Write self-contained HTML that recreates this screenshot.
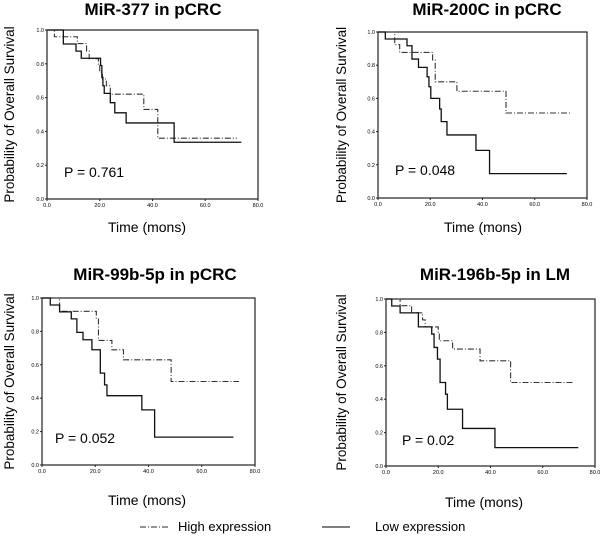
<!DOCTYPE html>
<html><head><meta charset="utf-8"><style>
body{margin:0;background:#fff;}
svg{display:block;font-family:"Liberation Sans",Arial,sans-serif;}
</style></head><body>
<svg id="c" width="600" height="537" viewBox="0 0 600 537">
<g id="legend">
<line x1="140" y1="527" x2="168" y2="527" stroke="#555" stroke-width="1.2" stroke-dasharray="6,2,1,2"/>
<text x="178" y="531" font-size="13">High expression</text>
<line x1="322" y1="527" x2="350" y2="527" stroke="#333" stroke-width="1.3"/>
<text x="375" y="531" font-size="13">Low expression</text>
</g>
</svg>
<script>
// Panel data (time in months, survival probability after step)
const xTicks = [0, 20, 40, 60, 80];
const yTicks = [0, 0.2, 0.4, 0.6, 0.8, 1.0];
const titles = ["MiR-377 in pCRC", "MiR-200C in pCRC", "MiR-99b-5p in pCRC", "MiR-196b-5p in LM"];
const pValues = ["P = 0.761", "P = 0.048", "P = 0.052", "P = 0.02"];

const p1LowT = [0, 6.2, 11, 13, 20.3, 20.8, 21.2, 21.7, 24, 25.7, 30, 48.2, 73.7];
const p1LowS = [1.0, 0.917, 0.875, 0.833, 0.79, 0.72, 0.67, 0.625, 0.57, 0.51, 0.45, 0.336, 0.336];
const p1HighT = [0, 2.8, 11.5, 15, 16, 19.5, 20, 21, 22.5, 24, 36.7, 42, 72];
const p1HighS = [1.0, 0.96, 0.92, 0.875, 0.83, 0.79, 0.75, 0.71, 0.67, 0.62, 0.53, 0.36, 0.36];

const p2LowT = [0, 2.8, 11.1, 13, 15.5, 18.8, 19.5, 20.2, 23.6, 24.2, 26.4, 37.5, 42.7, 72.3];
const p2LowS = [1.0, 0.958, 0.917, 0.837, 0.787, 0.73, 0.67, 0.60, 0.536, 0.46, 0.38, 0.287, 0.147, 0.147];
const p2HighT = [0, 6.4, 8.3, 20.9, 21.9, 30.2, 49, 74];
const p2HighS = [1.0, 0.924, 0.877, 0.83, 0.70, 0.643, 0.512, 0.512];

const p3LowT = [0, 3.1, 6.6, 11, 13.1, 15.4, 18.75, 21.9, 23.5, 24.4, 37.5, 42.3, 71.9];
const p3LowS = [1.0, 0.958, 0.917, 0.875, 0.794, 0.75, 0.69, 0.55, 0.48, 0.415, 0.33, 0.167, 0.167];
const p3HighT = [0, 6.6, 20.4, 21.2, 26.25, 30.6, 48.5, 74];
const p3HighS = [1.0, 0.92, 0.875, 0.746, 0.69, 0.63, 0.50, 0.50];

const p4LowT = [0, 2.2, 5.4, 12.4, 17.5, 18.4, 19.7, 20.7, 22.8, 23.5, 29.3, 41.7, 73.6];
const p4LowS = [1.0, 0.958, 0.917, 0.833, 0.79, 0.71, 0.64, 0.50, 0.43, 0.34, 0.225, 0.11, 0.11];
const p4HighT = [0, 5.4, 9.8, 14, 15, 20, 20.4, 25.5, 36, 47.7, 71.7];
const p4HighS = [1.0, 0.96, 0.917, 0.875, 0.833, 0.79, 0.75, 0.70, 0.63, 0.50, 0.50];

const lowT = [p1LowT, p2LowT, p3LowT, p4LowT];
const lowS = [p1LowS, p2LowS, p3LowS, p4LowS];
const highT = [p1HighT, p2HighT, p3HighT, p4HighT];
const highS = [p1HighS, p2HighS, p3HighS, p4HighS];

const layouts = [
 {l:47,t:30,r:258,b:199,tx:153,ty:15,yl:14,xlx:147,xly:232,px:64,py:177},
 {l:378,t:32,r:587,b:198,tx:487,ty:15,yl:346,xlx:483,xly:232,px:395,py:175},
 {l:42,t:298,r:255,b:465,tx:155,ty:280,yl:14,xlx:147,xly:505,px:55,py:443},
 {l:386,t:299,r:595,b:466,tx:495,ty:280,yl:346,xlx:484,xly:507,px:402,py:445}
];
const NS = "http://www.w3.org/2000/svg";
const svg = document.getElementById('c');
function mk(tag, attrs, parent){const e=document.createElementNS(NS,tag);for(const k in attrs)e.setAttribute(k,attrs[k]);parent.appendChild(e);return e;}
function stepPath(T,S,xs,ys){let d="M"+xs(T[0])+","+ys(S[0]);for(let i=1;i<T.length;i++){d+=" H"+xs(T[i])+" V"+ys(S[i]);}return d;}

layouts.forEach((L,i)=>{
  const g = mk('g',{},svg);
  
  
  const xs = v => L.l + (v/80)*(L.r-L.l);
  const ys = v => L.b - v*(L.b-L.t);
  const title = mk('text',{x:L.tx,y:L.ty,'font-size':17,'font-weight':'bold','text-anchor':'middle'},g);
  title.textContent = titles[i];
  
  
  const frame = mk('rect',{x:L.l,y:L.t,width:L.r-L.l,height:L.b-L.t,fill:'none',stroke:'#222','stroke-width':1.2},g);
  
  
  xTicks.forEach(v=>{
    mk('line',{x1:xs(v),x2:xs(v),y1:L.b,y2:L.b+2,stroke:'#222'},g);
    const t = mk('text',{x:xs(v),y:L.b+8,'font-size':5.5,'text-anchor':'middle'},g);
    t.textContent = v.toFixed(1);
    
    
  });
  yTicks.forEach(v=>{
    mk('line',{x1:L.l-2,x2:L.l,y1:ys(v),y2:ys(v),stroke:'#222'},g);
    const t = mk('text',{x:L.l-3,y:ys(v)+2,'font-size':5.5,'text-anchor':'end'},g);
    t.textContent = v.toFixed(1);
    
    
  });
  const ylc = (L.t+L.b)/2;
  const yl = mk('text',{x:L.yl,y:ylc,'font-size':13.5,'text-anchor':'middle',transform:'rotate(-90 '+L.yl+' '+ylc+')'},g);
  yl.textContent = 'Probability of Overall Survival';
  
  
  const xl = mk('text',{x:L.xlx,y:L.xly,'font-size':14,'text-anchor':'middle'},g);
  xl.textContent = 'Time (mons)';
  
  
  const hp = mk('path',{d:stepPath(highT[i],highS[i],xs,ys),fill:'none',stroke:'#333','stroke-width':1.1,'stroke-dasharray':'6,2,1,2'},g);
  
  
  const lp = mk('path',{d:stepPath(lowT[i],lowS[i],xs,ys),fill:'none',stroke:'#111','stroke-width':1.3},g);
  
  
  const pv = mk('text',{x:L.px,y:L.py,'font-size':14},g);
  pv.textContent = pValues[i];
  
  
});
</script>
</body></html>
